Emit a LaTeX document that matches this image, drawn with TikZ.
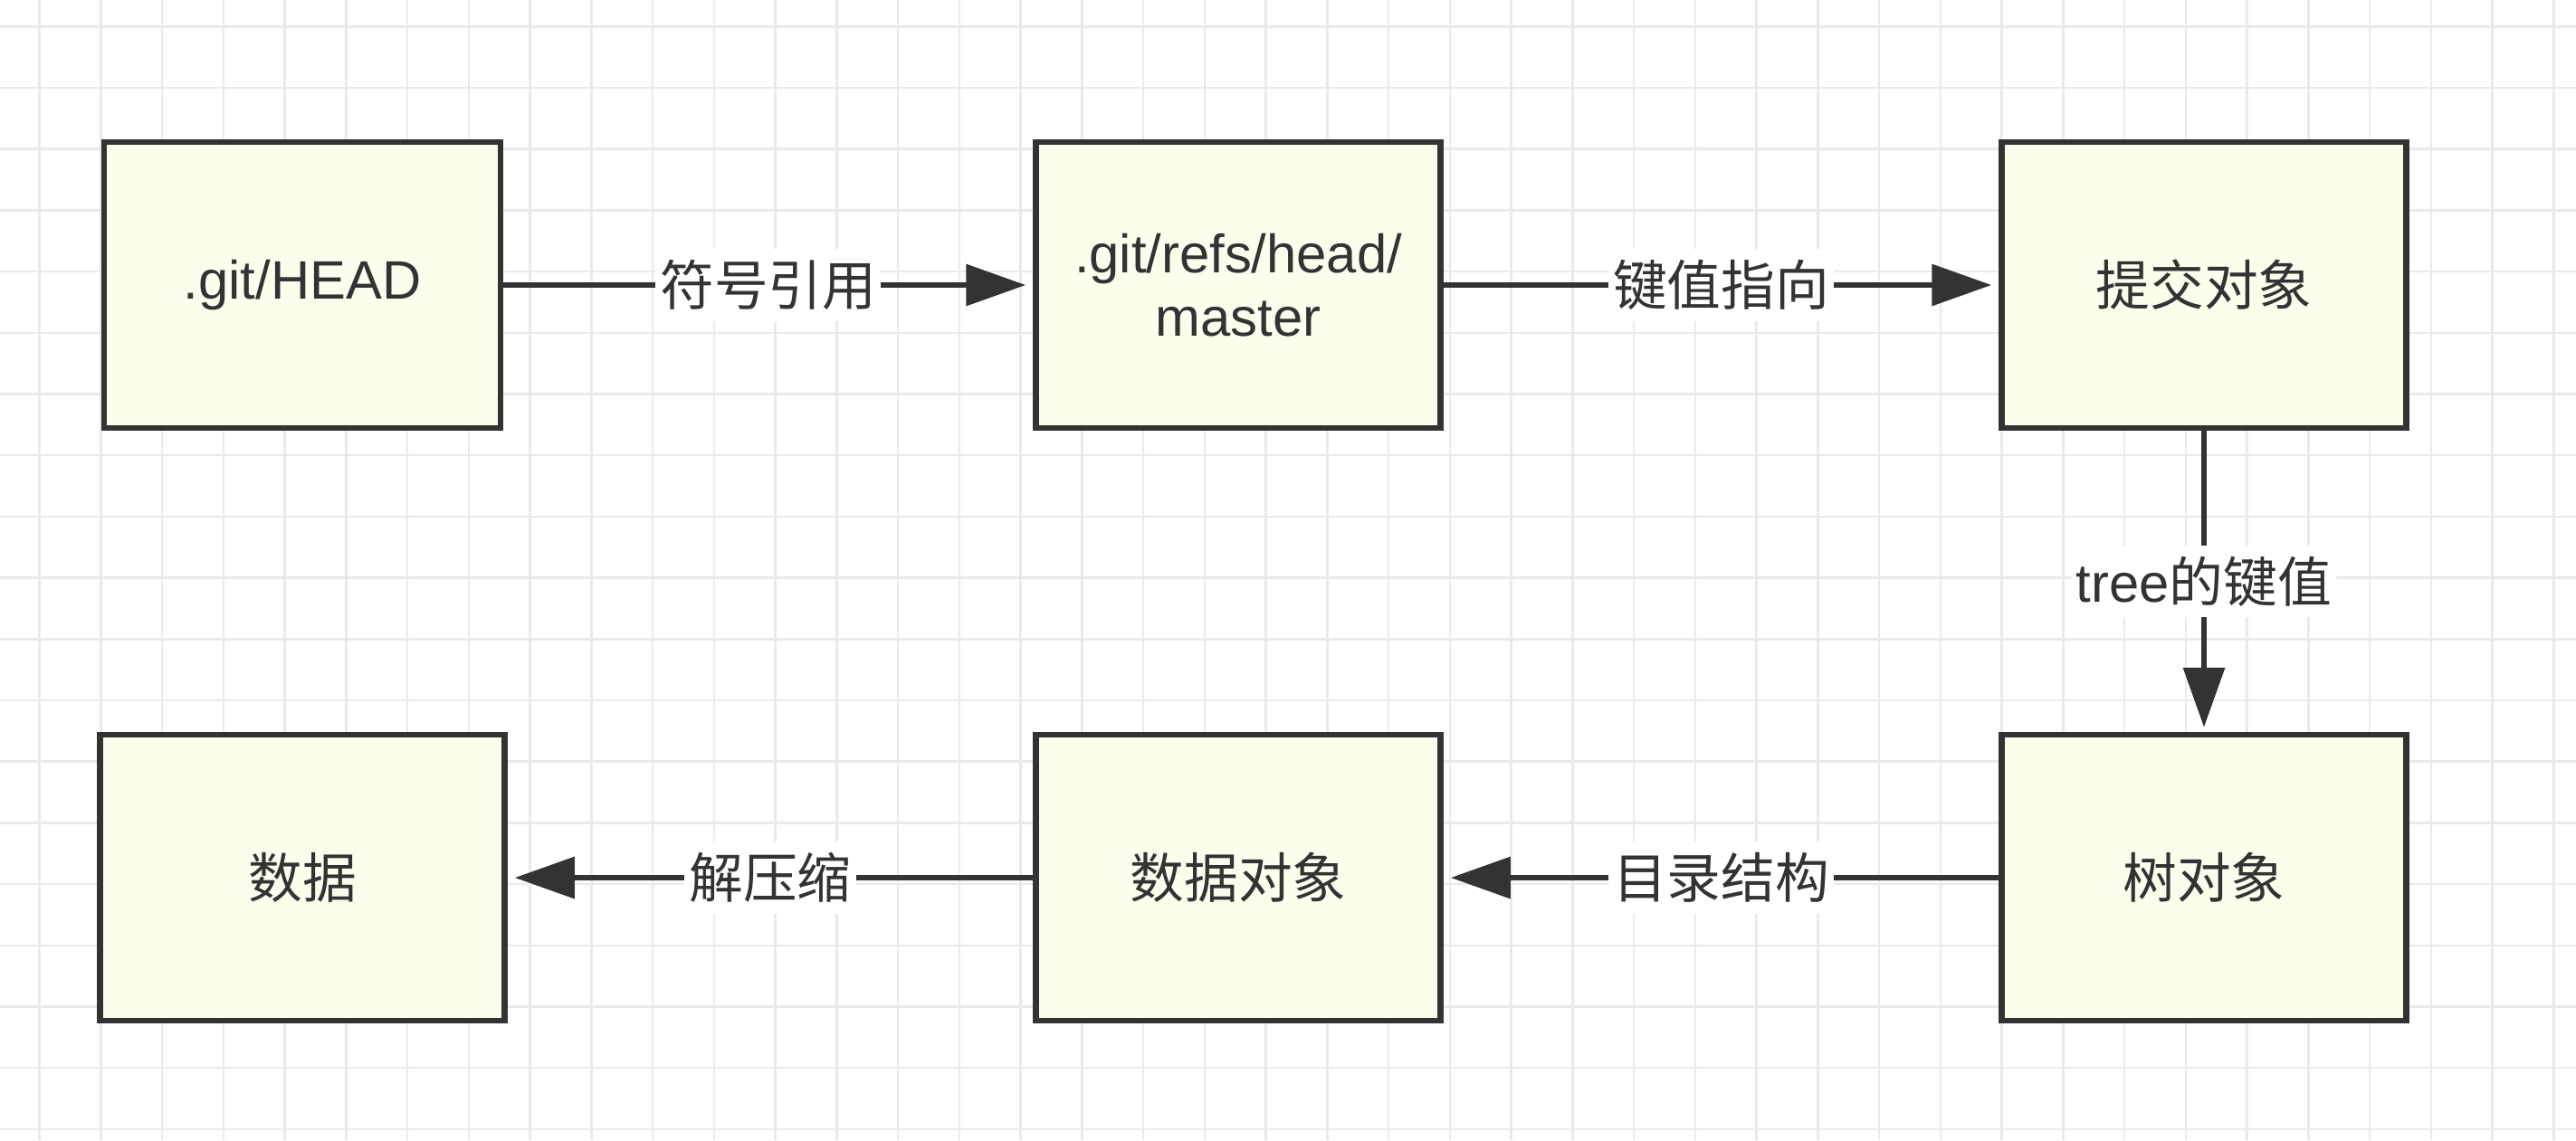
\documentclass[tikz,border=0pt]{standalone}
\usepackage{fontspec}
\setmainfont{Liberation Sans}
\newfontfamily\cjk{Noto Sans CJK SC}
\usepackage{xcolor}
\usepackage{tikz}
\usetikzlibrary{arrows.meta, positioning}

\definecolor{boxfill}{RGB}{253,253,238}
\definecolor{inkgray}{RGB}{51,51,51}
\definecolor{gridgray}{RGB}{234,234,234}

\begin{document}
\begin{tikzpicture}[->, >={Triangle[length=0.66cm, width=0.45cm]},
    line width=0.065cm, draw=inkgray, text=inkgray,
    every node/.style={font=\fontsize{17pt}{20pt}\selectfont},
    objbox/.style={rectangle, draw=inkgray, fill=boxfill, line width=0.065cm,
        minimum width=4.47cm, minimum height=3.16cm, align=center},
    edgelabel/.style={fill=white, inner xsep=0.05cm, inner ysep=0.12cm},
    gridline/.style={-, draw=gridgray, line width=0.025cm}]
    % Background grid
    \useasboundingbox (0,0) rectangle (28.46,-12.6);
    \fill[white] (0,0) rectangle (28.46,-12.6);
    \foreach \i in {0,...,41}
        \draw[gridline] ({0.435+0.6775*\i},0) -- ++(0,-12.6);
    \foreach \j in {0,...,18}
        \draw[gridline] (0,{-0.293-0.677*\j}) -- ++(28.46,0);

    % Nodes
    \node[objbox, minimum width=4.38cm] (head) at (3.34,-3.15) {.git/HEAD};
    \node[objbox, right of=head, node distance=10.34cm] (master) {.git/refs/head/\\master};
    \node[objbox, right of=master, node distance=10.67cm] (commit) {\cjk 提交对象};
    \node[objbox, below of=commit, node distance=6.55cm] (tree) {\cjk 树对象};
    \node[objbox, left of=tree, node distance=10.67cm] (blob) {\cjk 数据对象};
    \node[objbox, left of=blob, node distance=10.34cm] (data) {\cjk 数据};

    % Directed edges with labels
    \draw[->, shorten >=0.08cm] (head) -- (master) node[midway, edgelabel] {\cjk 符号引用};
    \draw[->, shorten >=0.08cm] (master) -- (commit) node[midway, edgelabel] {\cjk 键值指向};
    \draw[->, shorten >=0.05cm] (commit) -- (tree) node[midway, edgelabel] {tree{\cjk 的键值}};
    \draw[->, shorten >=0.08cm] (tree) -- (blob) node[midway, edgelabel] {\cjk 目录结构};
    \draw[->, shorten >=0.08cm] (blob) -- (data) node[midway, edgelabel] {\cjk 解压缩};
\end{tikzpicture}
\end{document}
